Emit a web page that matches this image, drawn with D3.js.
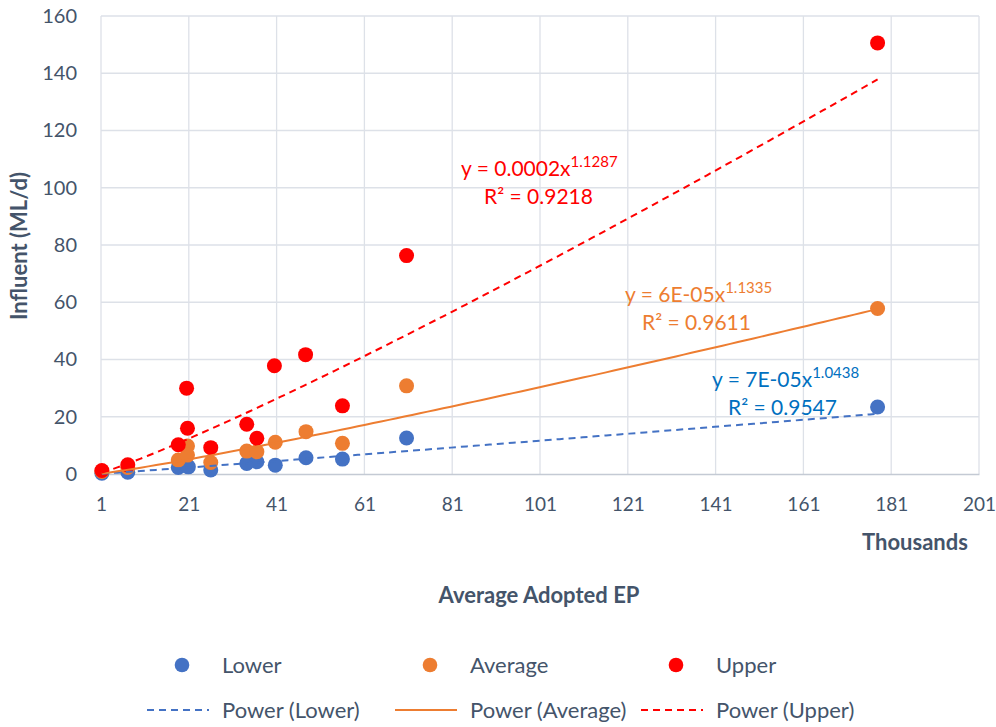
<!DOCTYPE html>
<meta charset="utf-8">
<script src="https://cdn.jsdelivr.net/npm/d3@7"></script>
<style>
  body { margin: 0; background: #fff; }
  text { font-family: Lato, "Open Sans", sans-serif; }
</style>
<div id="chart"></div>
<script>

    // data (x in EP, y in ML/d)
    var epLower = [1200, 7100, 18600, 20700, 20900, 26000, 34200, 36500, 40700, 47700, 56000, 70600, 177900];
    var lower   = [0.3, 0.6, 2.3, 2.8, 2.5, 1.4, 3.7, 4.3, 3.1, 5.7, 5.2, 12.6, 23.4];
    var epAvg   = [1200, 7100, 18600, 20700, 20700, 26000, 34200, 36500, 40700, 47700, 56000, 70600, 177900];
    var average = [0.9, 2.3, 4.9, 9.8, 6.6, 4.0, 8.0, 7.8, 11.1, 14.8, 10.7, 30.8, 57.8];
    var epUpper = [1200, 7100, 18600, 20500, 20700, 26000, 34200, 36500, 40500, 47600, 56000, 70600, 177900];
    var upper   = [1.2, 3.2, 10.2, 30.0, 16.0, 9.2, 17.4, 12.5, 37.8, 41.7, 23.8, 76.3, 150.6];

    // power trendlines y = a * x^b
    var trendA = [6.96e-5, 6.45e-5, 1.635e-4];
    var trendB = [1.0438, 1.1335, 1.1287];
    var trendCoef = ["7E-05", "6E-05", "0.0002"];
    var trendR2 = ["0.9547", "0.9611", "0.9218"];

    var seriesNames = ["Lower", "Average", "Upper"];
    var colors = ["#4472c4", "#ed7d31", "#ff0000"];
    var labelColors = ["#0070c0", "#ed7d31", "#ff0000"];

    var xTicks = [1000, 21000, 41000, 61000, 81000, 101000, 121000, 141000, 161000, 181000, 201000];
    var yTicks = [0, 20, 40, 60, 80, 100, 120, 140, 160];

    var W = 996, H = 727;
    var margin = { top: 16, right: 17, bottom: 253, left: 101 },
        width = W - margin.left - margin.right,
        height = H - margin.top - margin.bottom;

    var svg = d3.select("#chart")
        .append("svg")
        .attr("width", W)
        .attr("height", H);

    var g = svg.append("g")
        .attr("transform", "translate(" + margin.left + "," + margin.top + ")");

    var x = d3.scaleLinear().domain([1000, 201000]).range([0, width]);
    var y = d3.scaleLinear().domain([0, 160]).range([height, 0]);

    var textColor = "#44546a";
    var gridColor = "#dde1e8";

    // gridlines
    g.append("g")
        .selectAll("line.h")
        .data(yTicks.slice(1))
        .enter().append("line")
        .attr("x1", 0).attr("x2", width)
        .attr("y1", function (d) { return y(d); })
        .attr("y2", function (d) { return y(d); })
        .style("stroke", gridColor).style("stroke-width", 1.3);

    g.append("g")
        .selectAll("line.v")
        .data(xTicks)
        .enter().append("line")
        .attr("y1", 0).attr("y2", height)
        .attr("x1", function (d) { return x(d); })
        .attr("x2", function (d) { return x(d); })
        .style("stroke", gridColor).style("stroke-width", 1.3);

    // X axis
    var xAxis = g.append("g")
        .attr("transform", "translate(0," + height + ")")
        .call(d3.axisBottom(x).tickValues(xTicks).tickSize(0).tickPadding(24)
            .tickFormat(function (d) { return d / 1000; }));
    xAxis.select(".domain").style("stroke", "#c4cad4").style("stroke-width", 1.5);
    xAxis.selectAll("text").style("font-size", "19px").style("fill", textColor);

    // Y axis
    var yAxis = g.append("g")
        .call(d3.axisLeft(y).tickValues(yTicks).tickSize(0).tickPadding(24));
    yAxis.select(".domain").remove();
    yAxis.selectAll("text").style("font-size", "20px").style("fill", textColor);

    // titles
    svg.append("text")
        .attr("x", 915).attr("y", 550)
        .attr("text-anchor", "middle")
        .style("font-size", "22px").style("font-weight", "bold").style("fill", textColor)
        .text("Thousands");

    svg.append("text")
        .attr("x", 539).attr("y", 603)
        .attr("text-anchor", "middle")
        .style("font-size", "22px").style("font-weight", "bold").style("fill", textColor)
        .text("Average Adopted EP");

    svg.append("text")
        .attr("transform", "translate(27,246) rotate(-90)")
        .attr("text-anchor", "middle")
        .style("font-size", "22px").style("font-weight", "bold").style("fill", textColor)
        .text("Influent (ML/d)");

    var xs = [epLower, epAvg, epUpper];
    var ys = [lower, average, upper];
    var dashes = ["7,5", null, "7,5"];

    // markers
    ys.forEach(function (vals, i) {
        g.append("g")
            .selectAll("circle")
            .data(vals)
            .enter().append("circle")
            .attr("cx", function (d, j) { return x(xs[i][j]); })
            .attr("cy", function (d) { return y(d); })
            .attr("r", 7.5)
            .style("fill", colors[i]);
    });

    // trendlines
    var line = d3.line()
        .x(function (d) { return x(d[0]); })
        .y(function (d) { return y(d[1]); });

    ys.forEach(function (vals, i) {
        var lo = d3.min(xs[i]), hi = d3.max(xs[i]);
        var pts = d3.range(0, 101).map(function (k) {
            var xv = lo + (hi - lo) * k / 100;
            return [xv, trendA[i] * Math.pow(xv, trendB[i])];
        });
        g.append("path")
            .datum(pts)
            .attr("d", line)
            .style("fill", "none")
            .style("stroke", colors[i])
            .style("stroke-width", 2)
            .style("stroke-dasharray", dashes[i]);
    });

    // trendline labels
    var labelPos = [[712, 387, 728, 415], [625, 302, 642, 330], [461, 176, 484, 204]];
    labelPos.forEach(function (p, i) {
        var t = svg.append("text")
            .attr("x", p[0]).attr("y", p[1])
            .style("font-size", "21px").style("fill", labelColors[i]);
        t.append("tspan").text("y = " + trendCoef[i] + "x");
        t.append("tspan").attr("dy", -9).style("font-size", "15px").text(trendB[i].toFixed(4));
        svg.append("text")
            .attr("x", p[2]).attr("y", p[3])
            .style("font-size", "21px").style("fill", labelColors[i])
            .text("R\u00b2 = " + trendR2[i]);
    });

    // legend
    var legX = [182, 430, 676];
    var legend = svg.append("g");
    seriesNames.forEach(function (name, i) {
        legend.append("circle")
            .attr("cx", legX[i]).attr("cy", 665).attr("r", 7.3)
            .style("fill", colors[i]);
        legend.append("text")
            .attr("x", legX[i] + 40).attr("y", 673)
            .style("font-size", "22px").style("fill", textColor)
            .text(name);
        legend.append("line")
            .attr("x1", legX[i] - 35).attr("x2", legX[i] + 27)
            .attr("y1", 710).attr("y2", 710)
            .style("stroke", colors[i]).style("stroke-width", 2)
            .style("stroke-dasharray", dashes[i]);
        legend.append("text")
            .attr("x", legX[i] + 40).attr("y", 718)
            .style("font-size", "22px").style("fill", textColor)
            .text("Power (" + name + ")");
    });
</script>
